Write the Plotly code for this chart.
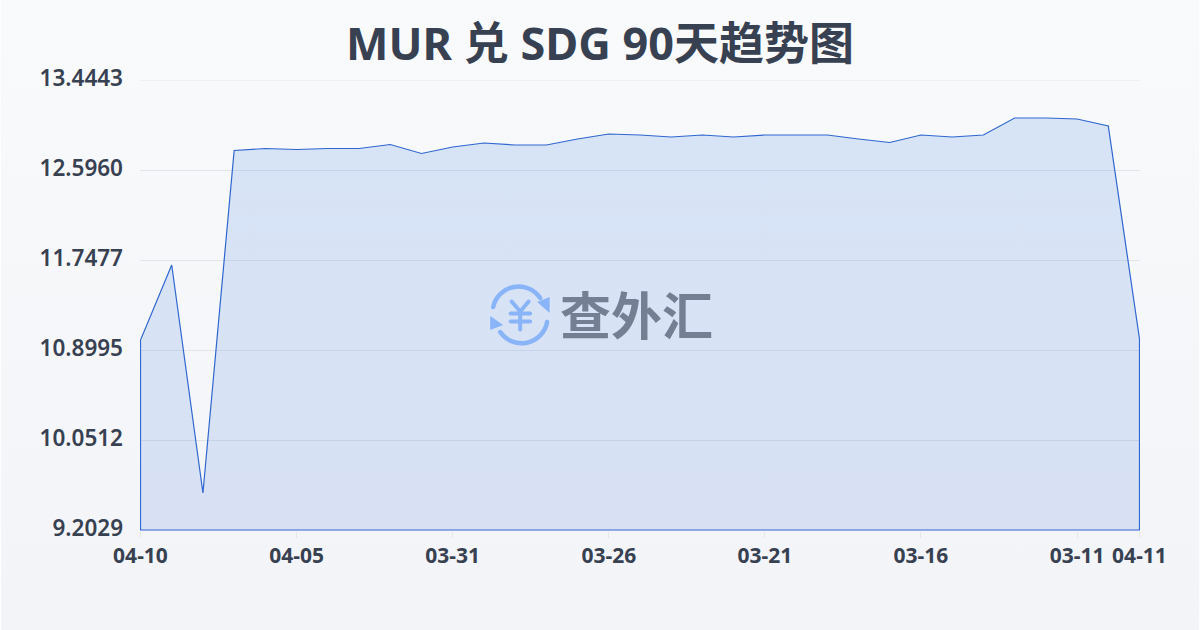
import base64
import plotly.graph_objects as go

# dates run backwards in the source chart, and the last point wraps to 04-11
dates = ["04-10", "04-09", "04-08", "04-07", "04-06", "04-05", "04-04", "04-03", "04-02", "04-01",
         "03-31", "03-30", "03-29", "03-28", "03-27", "03-26", "03-25", "03-24", "03-23", "03-22",
         "03-21", "03-20", "03-19", "03-18", "03-17", "03-16", "03-15", "03-14", "03-13", "03-12",
         "03-11", "03-10", "04-11"]
rates = [10.9937, 11.7006, 9.5516, 12.7798, 12.7987, 12.7892, 12.7987, 12.7987, 12.8364, 12.7515,
         12.8128, 12.8505, 12.8316, 12.8316, 12.8882, 12.9353, 12.9259, 12.9070, 12.9259, 12.9070,
         12.9259, 12.9259, 12.9259, 12.8882, 12.8552, 12.9259, 12.9070, 12.9259, 13.0861, 13.0861,
         13.0767, 13.0107, 11.0031]
x_ticks = ["04-10", "04-05", "03-31", "03-26", "03-21", "03-16", "03-11", "04-11"]
y_ticks = [9.2029, 10.0512, 10.8995, 11.7477, 12.5960, 13.4443]
y_labels = ["9.2029", "10.0512", "10.8995", "11.7477", "12.5960", "13.4443"]

TEXT = "#374151"
FONT = "Noto Sans, Noto Sans CJK SC"
GRID = "rgba(200,205,215,0.45)"
PLOT_W = 1001
PLOT_H = 451


def svgUri(svg):
    return "data:image/svg+xml;base64," + base64.b64encode(svg.encode()).decode()


bg_svg = """<svg xmlns="http://www.w3.org/2000/svg" width="1200" height="630">
<defs><linearGradient id="g" x1="0" y1="0" x2="0" y2="1">
<stop offset="0" stop-color="#f9fafc"/><stop offset="1" stop-color="#f3f4f7"/>
</linearGradient></defs><rect width="1200" height="630" fill="url(#g)"/></svg>"""

icon_svg = """<svg xmlns="http://www.w3.org/2000/svg" width="64" height="64" viewBox="0 0 64 64">
<g fill="none" stroke="#8ab4f8" stroke-width="4.5" stroke-linecap="round">
<path d="M5.5 23.5 A26 26 0 0 1 52.5 14.5"/><path d="M59.5 38.5 A26 26 0 0 1 12.5 48.5"/>
<path d="M24 18 L32.5 28 L41 18 M23 30 H42.5 M23 38 H42.5 M32.5 28 V46" stroke-width="4"/>
</g>
<path d="M49.5 18.5 L62 13.5 L62 29.5 Z M2.5 32.5 L2.5 46.5 L15.5 41.5 Z" fill="#8ab4f8"/></svg>"""

# close the outline along the bottom of the plot, the source strokes the whole area
line_x = dates + [dates[-1], dates[0], dates[0]]
line_y = rates + [y_ticks[0], y_ticks[0], rates[0]]

fig = go.Figure(go.Scatter(
    x=line_x,
    y=line_y,
    mode="lines",
    line={"color": "#2f66d0", "width": 1.2},
    fill="toself",
    fillgradient={
        "type": "vertical",
        "colorscale": [[0, "rgba(57,112,221,0.15)"], [1, "rgba(28,109,219,0.15)"]],
    },
    hoverinfo="skip",
))

fig.update_layout(
    width=1200,
    height=630,
    margin={"l": 139.5, "r": 59.5, "t": 80, "b": 99},
    paper_bgcolor="rgba(0,0,0,0)",
    plot_bgcolor="rgba(0,0,0,0)",
    showlegend=False,
    font={"family": FONT, "color": TEXT},
    title={
        "text": "<b>MUR 兑 SDG 90天趋势图</b>",
        "x": 0.5,
        "xanchor": "center",
        "y": 0.93,
        "yanchor": "middle",
        "font": {"size": 45, "color": TEXT, "family": FONT},
    },
    images=[
        {"source": svgUri(bg_svg), "xref": "paper", "yref": "paper", "x": -139.5 / PLOT_W, "y": 1 + 80 / PLOT_H,
         "sizex": 1200 / PLOT_W, "sizey": 630 / PLOT_H, "xanchor": "left", "yanchor": "top", "sizing": "stretch", "layer": "below"},
        {"source": svgUri(icon_svg), "xref": "paper", "yref": "paper", "x": 0.3477, "y": 0.4778,
         "sizex": 64 / PLOT_W, "sizey": 64 / PLOT_H, "xanchor": "left", "yanchor": "middle", "sizing": "stretch", "layer": "above"},
    ],
    annotations=[
        {"text": "<b>查外汇</b>", "xref": "paper", "yref": "paper", "x": 0.496, "y": 0.4785,
         "showarrow": False, "font": {"size": 51, "color": "#757f93", "family": FONT}},
    ],
    # plotly drops the grid line sitting on the top edge, so add it back
    shapes=[
        {"type": "line", "xref": "paper", "x0": 0, "x1": 1, "yref": "y", "y0": y_ticks[-1], "y1": y_ticks[-1],
         "line": {"color": GRID, "width": 1}, "layer": "below"},
    ],
)
# half a pixel of slack on the edges so the outline isn't clipped
fig.update_xaxes(
    type="category",
    categoryorder="array",
    categoryarray=dates,
    range=[-0.016, len(dates) - 1 + 0.016],
    tickmode="array",
    tickvals=x_ticks,
    ticktext=x_ticks,
    ticks="outside",
    ticklen=6,
    tickcolor="#e5e7eb",
    showgrid=False,
    showline=False,
    zeroline=False,
    tickangle=0,
    tickfont={"size": 21, "color": TEXT, "family": "Noto Sans", "weight": 700},
)
fig.update_yaxes(
    range=[y_ticks[0] - 0.0094, y_ticks[-1]],
    tickmode="array",
    tickvals=y_ticks,
    ticktext=y_labels,
    ticks="",
    showgrid=True,
    gridcolor=GRID,
    gridwidth=1,
    showline=False,
    zeroline=False,
    ticklabelstandoff=16,
    ticklabelshift=-2,
    tickfont={"size": 22.5, "color": TEXT, "family": "Noto Sans", "weight": 600},
)

fig.write_html("out.html", config={"displayModeBar": False}, post_script="document.body.style.margin = '0';")
